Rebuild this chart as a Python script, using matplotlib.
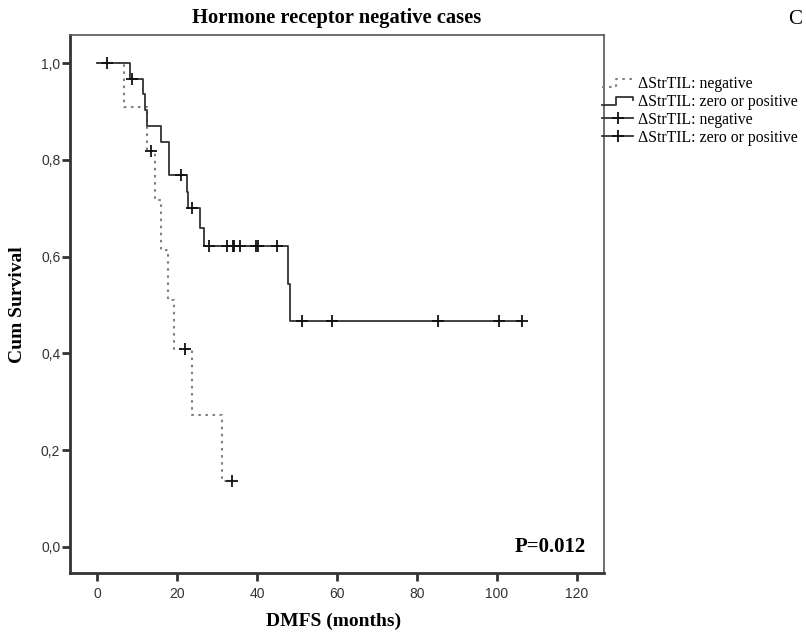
import matplotlib
matplotlib.use('Agg')
import matplotlib.pyplot as plt
from matplotlib.lines import Line2D
from matplotlib.legend_handler import HandlerLine2D

# Kaplan-Meier step data (months, cumulative survival)
neg_times = [0, 6.8, 12.5, 14.5, 16.0, 17.8, 19.3, 23.8, 31.3, 33.8]
neg_surv = [1.0, 0.909, 0.818, 0.716, 0.614, 0.511, 0.409, 0.273, 0.136, 0.136]
neg_cens_t = [13.5, 22.0, 33.8]
neg_cens_s = [0.818, 0.409, 0.136]

pos_times = [0, 8.3, 11.6, 12.0, 12.4, 15.9, 18.1, 22.4, 22.8, 25.8, 26.8, 47.8, 48.2, 106.3]
pos_surv = [1.0, 0.967, 0.936, 0.903, 0.870, 0.836, 0.768, 0.733, 0.700, 0.660, 0.621, 0.544, 0.466, 0.466]
pos_cens_t = [2.5, 8.8, 21.0, 23.7, 28.1, 32.6, 33.9, 34.25, 35.75, 39.75, 40.3, 44.9,
              51.3, 58.7, 85.2, 100.6, 106.3]
pos_cens_s = [1.0, 0.967, 0.768, 0.700, 0.621, 0.621, 0.621, 0.621, 0.621, 0.621, 0.621, 0.621,
              0.466, 0.466, 0.466, 0.466, 0.466]

legend_labels = ['\u0394StrTIL: negative', '\u0394StrTIL: zero or positive',
                 '\u0394StrTIL: negative', '\u0394StrTIL: zero or positive']
x_ticks = [0, 20, 40, 60, 80, 100, 120]
y_ticks = [0.0, 0.2, 0.4, 0.6, 0.8, 1.0]

SERIF = 'Liberation Serif'
SANS = 'Liberation Sans'
LINE_COL = '#333333'
DOT_COL = '#808080'
DOTS = (0, (1.2, 2.2))


class StepHandler(HandlerLine2D):
    # SPSS style step glyph in the legend
    def create_artists(self, legend, orig_handle, xdescent, ydescent, width, height, fontsize, trans):
        x0 = -xdescent
        y0 = -ydescent + height * 0.1
        y1 = -ydescent + height * 0.85
        xs = [x0, x0 + width * 0.45, x0 + width * 0.45, x0 + width, x0 + width]
        ys = [y0, y0, y1, y1, y1 - height * 0.3]
        line = Line2D(xs, ys)
        line.update_from(orig_handle)
        line.set_marker('')
        line.set_transform(trans)
        return [line]


fig = plt.figure(figsize=(8.06, 6.33), dpi=100)
ax = fig.add_axes([70 / 806, 1 - 573 / 633, 534 / 806, 538 / 633])

ax.step(neg_times, neg_surv, where='post', color=DOT_COL, lw=1.5, linestyle=DOTS)
ax.step(pos_times, pos_surv, where='post', color=LINE_COL, lw=1.3)
ax.plot(neg_cens_t, neg_cens_s, linestyle='none', marker='+', ms=9, mew=1.3, color='#111111')
ax.plot(pos_cens_t, pos_cens_s, linestyle='none', marker='+', ms=9, mew=1.3, color='#111111')

ax.set_xlim(-6.75, 126.75)
ax.set_ylim(-0.054, 1.058)
ax.set_xticks(x_ticks)
ax.set_xticklabels([str(t) for t in x_ticks], fontfamily=SANS, fontsize=10, color='#333333')
ax.set_yticks(y_ticks)
ax.set_yticklabels([f'{v:.1f}'.replace('.', ',') for v in y_ticks], fontfamily=SANS,
                   fontsize=10, color='#333333')
ax.tick_params(direction='out', length=6, width=2, color='#333333')
ax.tick_params(axis='x', pad=4)
ax.tick_params(axis='y', pad=1)

for side in ['left', 'bottom']:
    ax.spines[side].set_linewidth(2)
    ax.spines[side].set_color('#333333')
for side in ['top', 'right']:
    ax.spines[side].set_linewidth(1.2)
    ax.spines[side].set_color('#555555')

fig.text(337 / 806, 1 - 18 / 633, 'Hormone receptor negative cases', ha='center', va='center',
         fontfamily=SERIF, fontweight='bold', fontsize=14.8)
fig.text(18 / 806, 1 - 305 / 633, 'Cum Survival', rotation=90, ha='center', va='center',
         fontfamily=SERIF, fontweight='bold', fontsize=14)
fig.text(334 / 806, 1 - 621 / 633, 'DMFS (months)', ha='center', va='center',
         fontfamily=SERIF, fontweight='bold', fontsize=14)
fig.text(550 / 806, 1 - 547 / 633, 'P=0.012', ha='center', va='center',
         fontfamily=SERIF, fontweight='bold', fontsize=15)
fig.text(795 / 806, 1 - 20 / 633, 'C', ha='center', va='center', fontfamily=SERIF, fontsize=15)

h1 = Line2D([], [], color=DOT_COL, lw=1.5, linestyle=DOTS)
h2 = Line2D([], [], color=LINE_COL, lw=1.3)
h3 = Line2D([], [], color=LINE_COL, lw=1.3, marker='+', ms=9, mew=1.3, mec='#111111')
h4 = Line2D([], [], color=LINE_COL, lw=1.3, marker='+', ms=9, mew=1.3, mec='#111111')
fig.legend([h1, h2, h3, h4], legend_labels, loc='upper left',
           bbox_to_anchor=(602 / 806, 1 - 76 / 633), frameon=False,
           prop={'family': SERIF, 'size': 11.3}, handlelength=2.0, handletextpad=0.3,
           labelspacing=0.12, borderpad=0, borderaxespad=0,
           handler_map={h1: StepHandler(), h2: StepHandler()})

fig.savefig('out.png', dpi=100)
